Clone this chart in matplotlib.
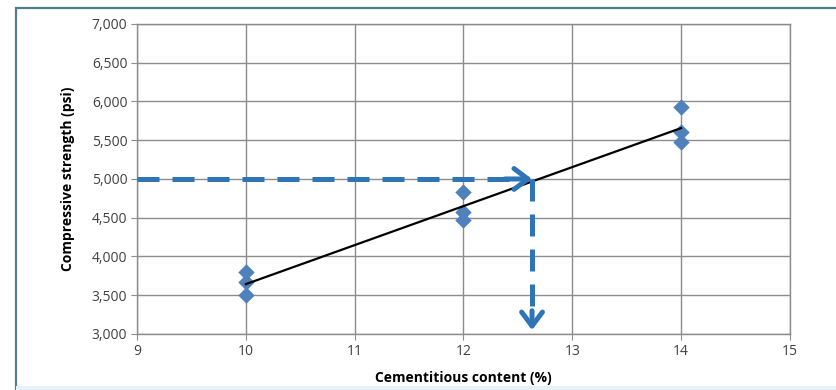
import numpy as np
import matplotlib.pyplot as plt
from matplotlib.patches import Rectangle

# cylinder break results, three specimens per mix
cement_pct = [10, 10, 10, 12, 12, 12, 14, 14, 14]
strength_psi = [3800, 3670, 3500, 4830, 4570, 4470, 5930, 5600, 5480]

# design target and the content for it
target_psi = 5000
read_off_pct = 12.63

x_ticks = [9, 10, 11, 12, 13, 14, 15]
y_ticks = [3000, 3500, 4000, 4500, 5000, 5500, 6000, 6500, 7000]

plt.rcParams['font.family'] = ['Open Sans', 'DejaVu Sans']

fig = plt.figure(figsize=(8.36, 3.90), dpi=100)
ax = fig.add_axes([0.1639, 0.1436, 0.781, 0.795])

# outer chart frame
fig.patches.append(Rectangle((16 / 836, -0.02), 1.0, (1 - 8 / 390) + 0.02, transform=fig.transFigure,
                             fill=False, edgecolor='#4f7f8a', lw=1.6))
fig.patches.append(Rectangle((16 / 836, 0), 1.0, 4 / 390, transform=fig.transFigure,
                             facecolor='#e6f3fa', edgecolor='none'))

ax.scatter(cement_pct, strength_psi, marker='D', s=70, color='#4f81bd', zorder=3, linewidths=0)

# linear trend over the tested range
slope, intercept = np.polyfit(cement_pct, strength_psi, 1)
xs = np.array([min(cement_pct), max(cement_pct)])
ax.plot(xs, slope * xs + intercept, color='black', lw=1.6, zorder=4)

# read-off arrows for the target strength
blue = '#2e75b6'
dash = (4.4, 2.6)
head = '->,head_length=1.0,head_width=0.75'
ax.plot([9, read_off_pct - 0.12], [target_psi, target_psi], color=blue, lw=3.6, dashes=dash,
        solid_capstyle='butt', zorder=5)
ax.annotate('', xy=(read_off_pct, target_psi), xytext=(read_off_pct - 0.25, target_psi),
            arrowprops=dict(arrowstyle=head, color=blue, lw=3.6, shrinkA=0, shrinkB=0), zorder=5)
ax.plot([read_off_pct, read_off_pct], [target_psi, 3150], color=blue, lw=3.6, dashes=dash,
        solid_capstyle='butt', zorder=5)
ax.annotate('', xy=(read_off_pct, 3050), xytext=(read_off_pct, 3300),
            arrowprops=dict(arrowstyle=head, color=blue, lw=3.6, shrinkA=0, shrinkB=0), zorder=5)

ax.set_xlim(9, 15)
ax.set_ylim(3000, 7000)
ax.set_xticks(x_ticks)
ax.set_yticks(y_ticks)
ax.set_yticklabels([f'{v:,}' for v in y_ticks])
ax.grid(True, color='#8c8c8c', lw=1)
ax.set_axisbelow(True)
for side in ax.spines.values():
    side.set_color('#8c8c8c')
    side.set_linewidth(1)
ax.tick_params(axis='both', direction='out', length=4, color='#8c8c8c',
               labelsize=10, labelcolor='#404040', pad=3)

ax.set_xlabel('Cementitious content (%)', fontsize=10, fontweight='bold', labelpad=9)
ax.set_ylabel('Compressive strength (psi)', fontsize=10, fontweight='bold', labelpad=12)

fig.savefig('out.png', dpi=100)
